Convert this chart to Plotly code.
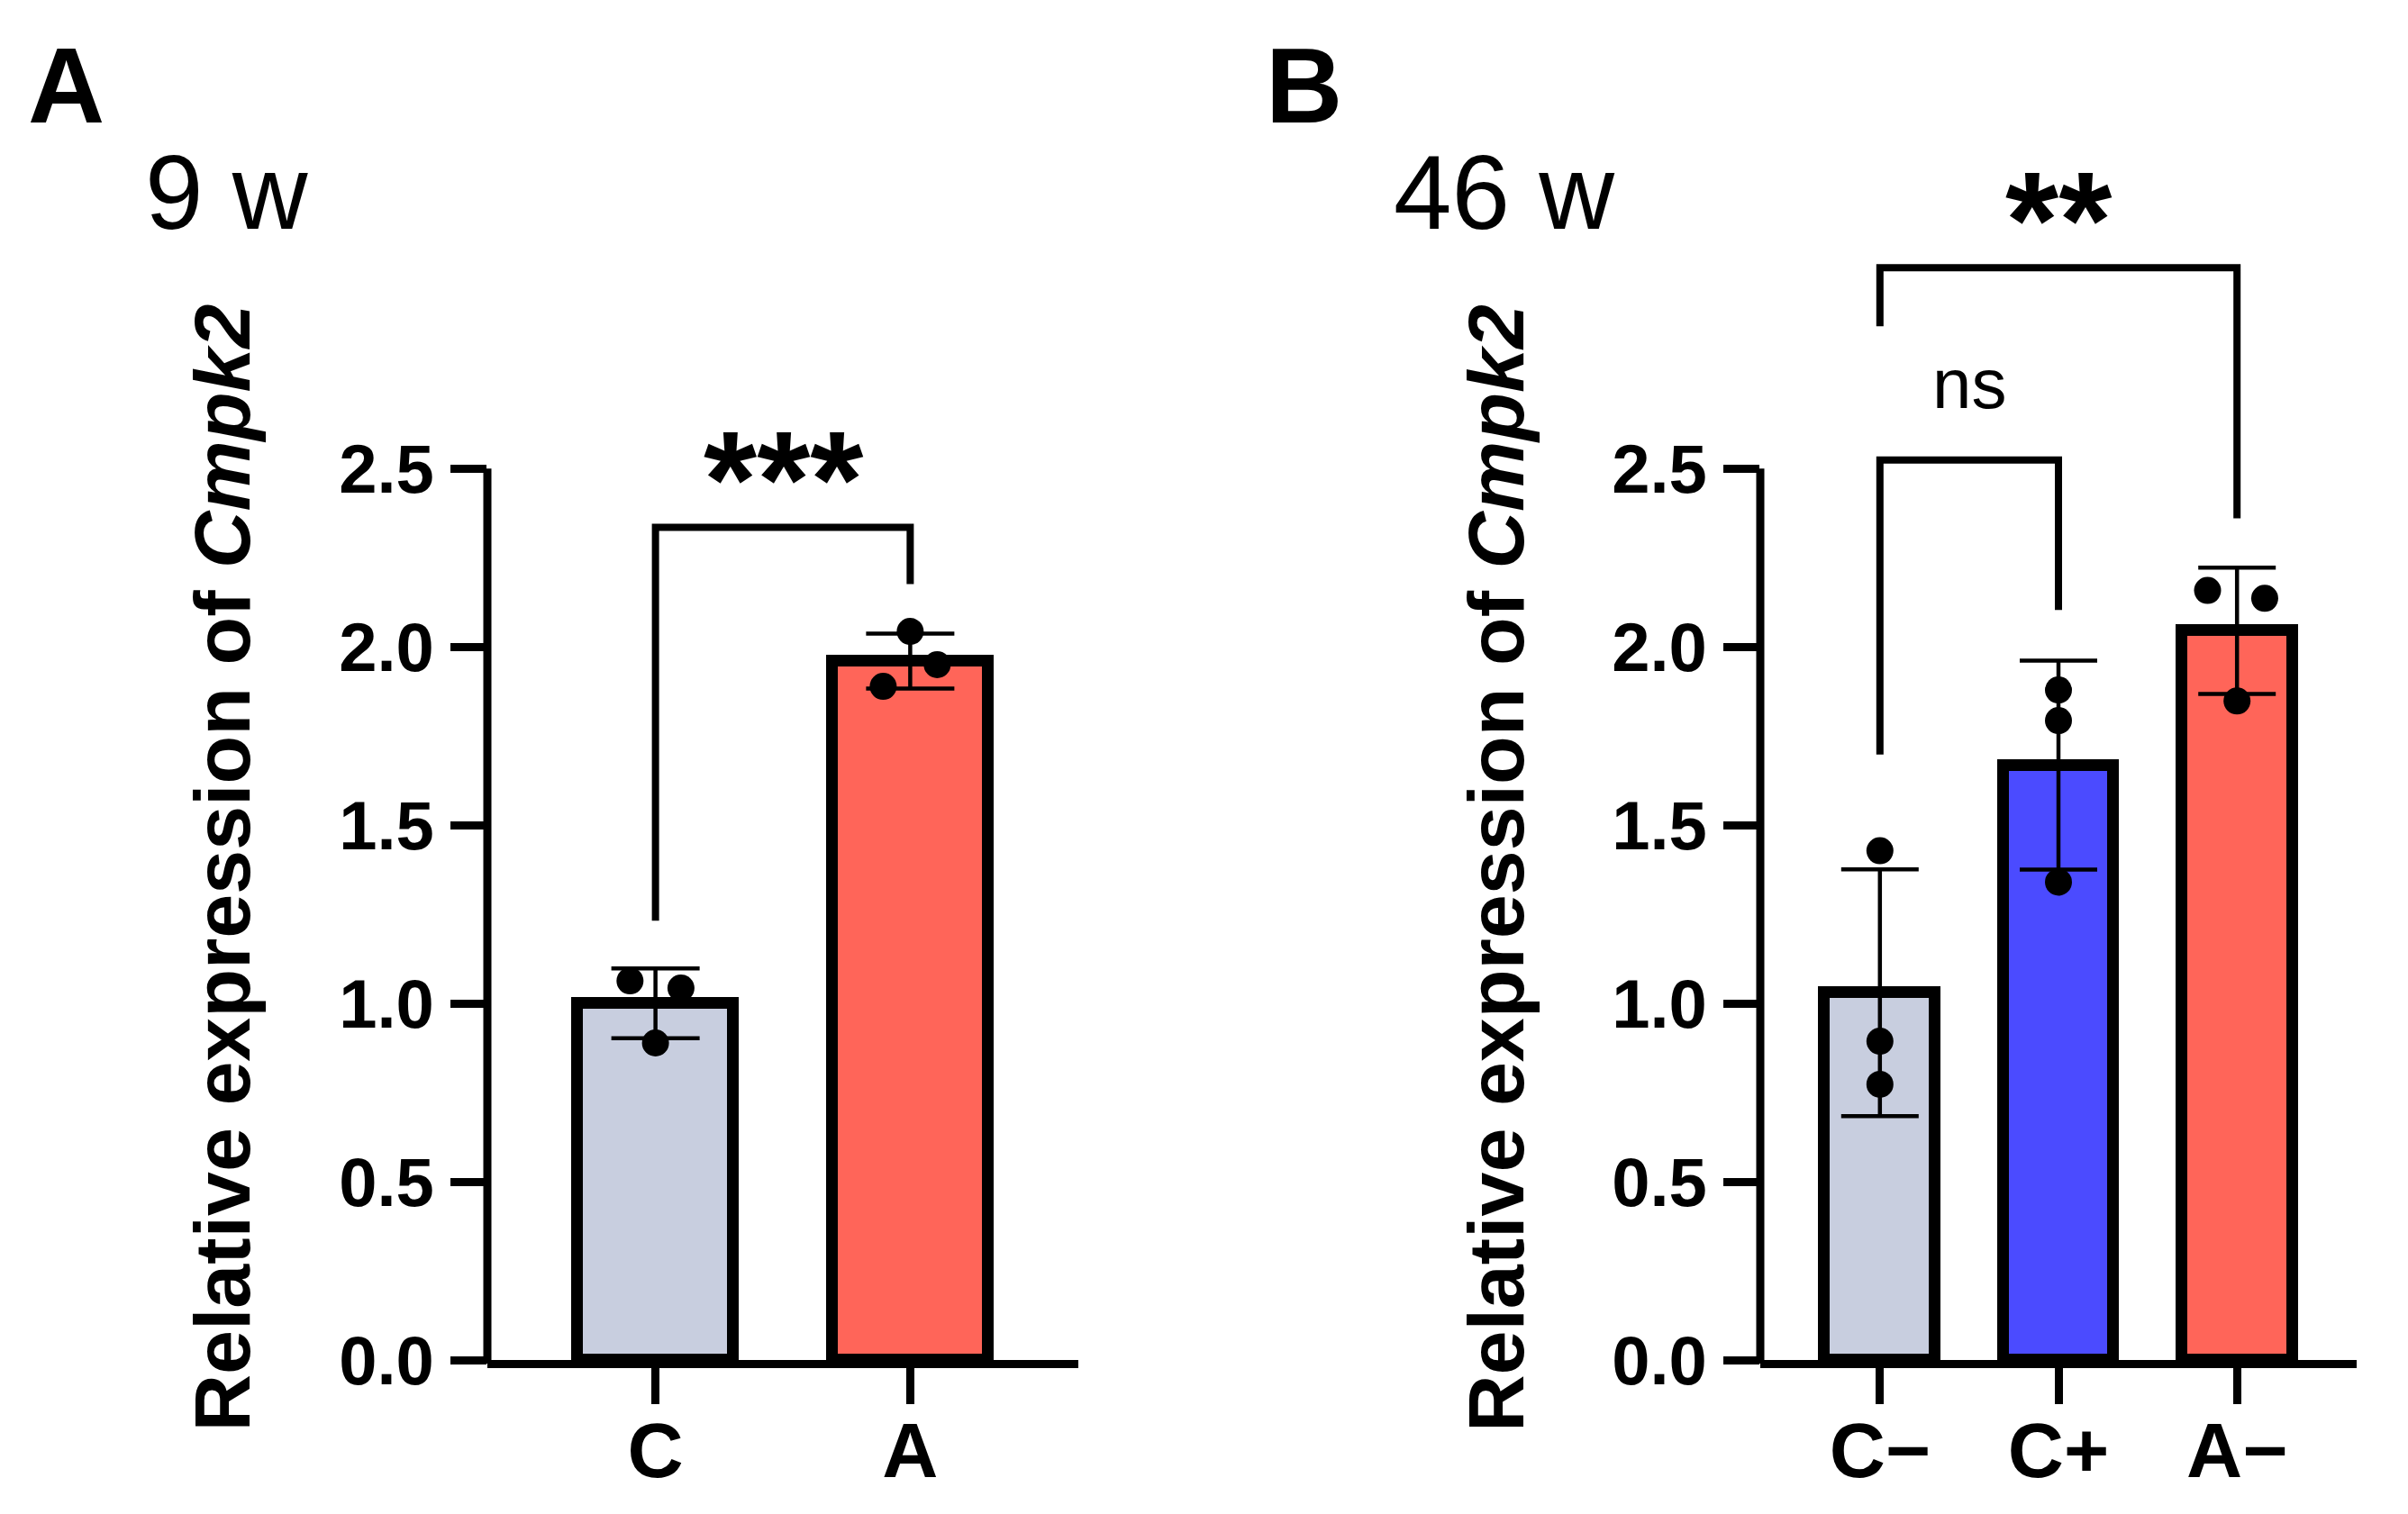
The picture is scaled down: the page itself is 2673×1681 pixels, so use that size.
import plotly.graph_objects as go

W, H = 2673, 1681
FONT = "Liberation Sans"

# panel A (9 w)
a_cats = ["C", "A"]
a_means = [1.00, 1.96]
a_sd = [0.098, 0.077]
a_points = [[1.063, 1.043, 0.889], [2.043, 1.950, 1.889]]
a_jitter = [[-0.10, 0.10, 0.0], [0.0, 0.106, -0.106]]
a_colors = ["#C8CEDF", "#FF6559"]

# panel B (46 w)
b_cats = ["C\u2212", "C+", "A\u2212"]
b_means = [1.03, 1.668, 2.045]
b_sd = [0.346, 0.293, 0.177]
b_points = [[1.428, 0.894, 0.773], [1.879, 1.793, 1.340], [2.158, 2.136, 1.848]]
b_jitter = [[0, 0, 0], [0, 0, 0], [-0.165, 0.155, 0.0]]
b_colors = ["#C8CEDF", "#4B4BFF", "#FF6559"]

# significance brackets: (x0, x1, y_left_end, y_top, y_right_end, label)
a_brackets = [(0, 1, 1.232, 2.335, 2.176, "***")]
b_brackets = [(0, 1, 1.698, 2.524, 2.103, "ns"), (0, 2, 2.899, 3.063, 2.36, "**")]

Y0_PX = 1502
PPU = 396
YMAX = 3.45
TOP_PX = Y0_PX - YMAX * PPU
dom_a = [533 / W, 1189 / W]
dom_b = [1946 / W, 2608 / W]


def py(p):
    return (Y0_PX - p) / (Y0_PX - TOP_PX)


fig = go.Figure()


def add_panel(cats, means, sd, points, jitter, colors, brackets, xa, ya, bar_w, cap_w):
    n = len(cats)
    fig.add_trace(go.Bar(
        x=list(range(n)), y=means, width=bar_w, xaxis=xa, yaxis=ya,
        marker=dict(color=colors, line=dict(color="black", width=13)),
        error_y=dict(type="data", array=sd, visible=True, color="black",
                     thickness=4.5, width=cap_w),
        showlegend=False,
    ))
    xs, ys = [], []
    for i in range(n):
        for v, j in zip(points[i], jitter[i]):
            xs.append(i + j)
            ys.append(v)
    fig.add_trace(go.Scatter(
        x=xs, y=ys, mode="markers", xaxis=xa, yaxis=ya,
        marker=dict(color="black", size=30), showlegend=False,
    ))
    for x0, x1, yl, yt, yr, lab in brackets:
        fig.add_trace(go.Scatter(
            x=[x0, x0, x1, x1], y=[yl, yt, yt, yr], mode="lines",
            xaxis=xa, yaxis=ya, line=dict(color="black", width=8),
            showlegend=False, hoverinfo="skip",
        ))
        star = "*" in lab
        fig.add_annotation(
            x=(x0 + x1) / 2, y=yt + (0.134 if star else 0.214),
            xref=xa, yref=ya, text=lab, showarrow=False,
            font=dict(family=FONT, size=152 if star else 78, color="black",
                      weight="bold" if star else "normal"),
        )


add_panel(a_cats, a_means, a_sd, a_points, a_jitter, a_colors, a_brackets,
          "x", "y", 0.61, 49)
add_panel(b_cats, b_means, b_sd, b_points, b_jitter, b_colors, b_brackets,
          "x2", "y2", 0.62, 43)

yax = dict(range=[0, YMAX], tickvals=[0, 0.5, 1.0, 1.5, 2.0, 2.5], tickformat=".1f",
           ticks="outside", ticklen=40, tickwidth=9, tickcolor="black",
           ticklabelstandoff=3,
           showline=False, showgrid=False, zeroline=False,
           tickfont=dict(family=FONT, size=76, color="black", weight="bold"),
           automargin=False)
xax = dict(ticks="outside", ticklen=40, tickwidth=9, tickcolor="black",
           ticklabelstandoff=-22,
           showline=True, linewidth=9, linecolor="black", showgrid=False,
           zeroline=False,
           tickfont=dict(family=FONT, size=86, color="black", weight="bold"),
           automargin=False)

fig.update_layout(
    width=W, height=H,
    margin=dict(l=0, r=0, t=TOP_PX, b=H - Y0_PX),
    paper_bgcolor="white", plot_bgcolor="white",
    font=dict(family=FONT, color="black"),
    bargap=0,
    xaxis=dict(xax, domain=dom_a, range=[-0.66, 1.66], tickvals=[0, 1], ticktext=a_cats),
    yaxis=dict(yax, anchor="x"),
    xaxis2=dict(xax, domain=dom_b, range=[-0.67, 2.67], tickvals=[0, 1, 2], ticktext=b_cats),
    yaxis2=dict(yax, anchor="x2"),
)

# y axis lines stopping at 2.5
for dom in (dom_a, dom_b):
    fig.add_shape(type="line", xref="paper", yref="paper",
                  x0=dom[0], x1=dom[0], y0=py(Y0_PX + 4), y1=py(Y0_PX - 2.5 * PPU),
                  line=dict(color="black", width=9))

title = "<b>Relative expression of <i>Cmpk2</i></b>"
for xc in (187, 1652):
    fig.add_annotation(x=xc / W, y=py(956), xref="paper", yref="paper", text=title,
                       textangle=-90, showarrow=False,
                       font=dict(family=FONT, size=88, color="black"))

for txt, xl in (("A", 21), ("B", 1439)):
    fig.add_annotation(x=xl / W, y=py(19), xref="paper", yref="paper", text=txt,
                       showarrow=False,
                       font=dict(family=FONT, size=118, color="black", weight="bold"))

for txt, xl in (("9 w", 151), ("46 w", 1537)):
    fig.add_annotation(x=xl / W, y=py(139), xref="paper", yref="paper", text=txt,
                       xanchor="left", showarrow=False,
                       font=dict(family=FONT, size=116, color="black"))

fig.write_html("out.html")
